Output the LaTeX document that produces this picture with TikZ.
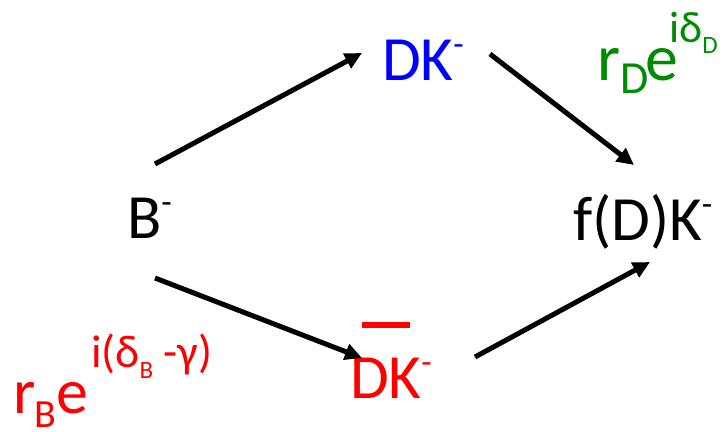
\documentclass[tikz,border=0pt]{standalone}
\usepackage{fontspec}
\setmainfont{Carlito}
\usetikzlibrary{arrows.meta}
\definecolor{myred}{RGB}{255,0,0}
\definecolor{mygreen}{RGB}{0,140,0}
\definecolor{myblue}{RGB}{0,0,255}
\tikzset{
  lbl/.style={anchor=base west, inner sep=0pt, outer sep=0pt, font=\fontsize{63}{63}\selectfont},
  arr/.style={line width=5pt, -{Triangle[length=17pt,width=16pt]}},
}
\newcommand{\supm}{\raisebox{25pt}{\fontsize{34}{34}\selectfont -}}
\begin{document}
\begin{tikzpicture}[x=1pt,y=-1pt]
\useasboundingbox (0,0) rectangle (725,431);
% main labels
\node[lbl] (B) at (127,238) {B\supm};
\node[lbl, text=myblue] (DK) at (382,80) {DK\supm};
\node[lbl] (F) at (573,240) {f(D)K\supm};
\node[lbl, text=myred] (DKb) at (350,398) {DK\supm};
\fill[myred] (362,322) rectangle (410,328);
% amplitude labels
\node[anchor=base west, inner sep=0pt, text=myred] (AB) at (13,413)
  {\fontsize{64}{64}\selectfont r\kern-1pt\raisebox{-14pt}{\fontsize{40}{40}\selectfont B}e\kern3pt\raisebox{46pt}{\fontsize{46}{46}\selectfont i(δ\raisebox{-11pt}{\fontsize{25}{25}\selectfont B} -γ)}};
\node[anchor=base west, inner sep=0pt, text=mygreen] (AD) at (597,80)
  {\fontsize{66}{66}\selectfont r\raisebox{-13pt}{\fontsize{46}{46}\selectfont D}\kern-3pt e\kern-9pt\raisebox{38pt}{\fontsize{44}{44}\selectfont iδ\raisebox{-11pt}{\fontsize{25}{25}\selectfont D}}};
% arrow end points
\coordinate (a1) at (155,164); \coordinate (a1t) at (362,53);
\coordinate (a2) at (490,54);  \coordinate (a2t) at (634,165);
\coordinate (a3) at (155,278); \coordinate (a3t) at (362,358);
\coordinate (a4) at (475,357); \coordinate (a4t) at (650,262);
\draw[arr] (a1) -- (a1t);
\draw[arr] (a2) -- (a2t);
\draw[arr] (a3) -- (a3t);
\draw[arr] (a4) -- (a4t);
\end{tikzpicture}
\end{document}
